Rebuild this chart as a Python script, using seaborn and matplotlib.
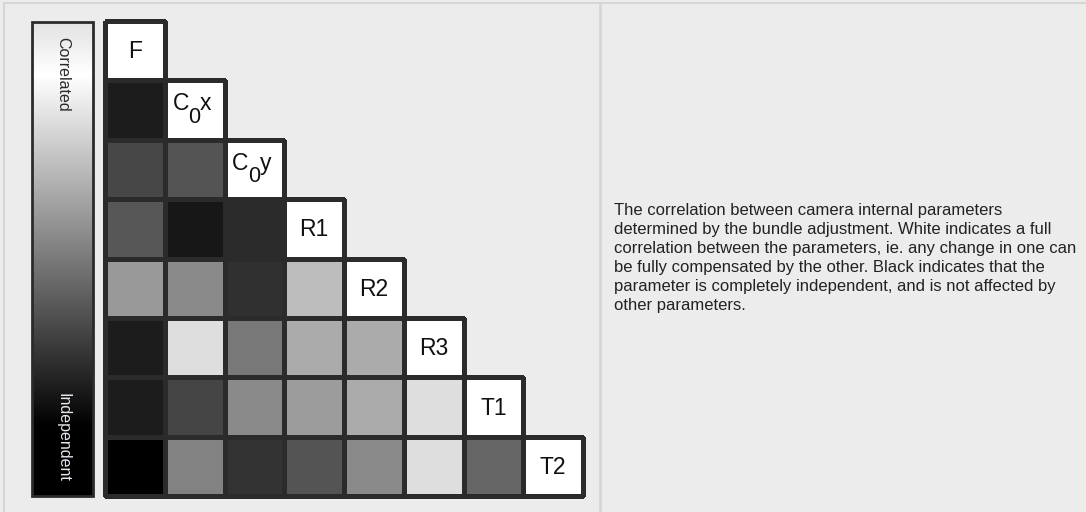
"""Camera internal parameter correlation matrix (lower triangle) with legend bar."""

import matplotlib
matplotlib.use("Agg")

import matplotlib.pyplot as plt
import numpy as np
import pandas as pd
import seaborn as sns
from matplotlib.colors import LinearSegmentedColormap, Normalize, to_rgba
from matplotlib.cm import ScalarMappable
from matplotlib.lines import Line2D

# --------------------------------------------------------------------------- #
# Data (|correlation|, 1 = fully correlated / white, 0 = independent / black)
# --------------------------------------------------------------------------- #
PARAMS = ["F", "C0x", "C0y", "R1", "R2", "R3", "T1", "T2"]
# (main, subscript, tail) pieces of each diagonal label
PARAM_LABELS = [("F", "", ""), ("C", "0", "x"), ("C", "0", "y"), ("R1", "", ""),
                ("R2", "", ""), ("R3", "", ""), ("T1", "", ""), ("T2", "", "")]

ROW_C0X = [0.11]
ROW_C0Y = [0.28, 0.33]
ROW_R1 = [0.34, 0.09, 0.17]
ROW_R2 = [0.60, 0.54, 0.19, 0.74]
ROW_R3 = [0.11, 0.87, 0.47, 0.67, 0.67]
ROW_T1 = [0.11, 0.27, 0.54, 0.61, 0.67, 0.87]
ROW_T2 = [0.00, 0.51, 0.20, 0.33, 0.54, 0.87, 0.40]

DESCRIPTION = ("The correlation between camera internal parameters\n"
               "determined by the bundle adjustment. White indicates a full\n"
               "correlation between the parameters, ie. any change in one can\n"
               "be fully compensated by the other. Black indicates that the\n"
               "parameter is completely independent, and is not affected by\n"
               "other parameters.")

# --------------------------------------------------------------------------- #
# Styling
# --------------------------------------------------------------------------- #
BG = "#ececec"
GRID = "#2b2b2b"
LABEL_SIZE = 16.5
W, H = 1086, 512

sns.set_style("white")
plt.rcParams["font.family"] = ["Liberation Sans", "DejaVu Sans"]

rows = [[], ROW_C0X, ROW_C0Y, ROW_R1, ROW_R2, ROW_R3, ROW_T1, ROW_T2]
n = len(PARAMS)
mat = np.full((n, n), np.nan)
for i, r in enumerate(rows):
    mat[i, :len(r)] = r
    mat[i, i] = 1.0
df = pd.DataFrame(mat, index=PARAMS, columns=PARAMS)
mask = np.triu(np.ones((n, n), dtype=bool), k=1)

fig = plt.figure(figsize=(W / 100, H / 100), dpi=100, facecolor=BG)


def px_axes(x0, y0, x1, y1):
    """Axes from pixel box (top-left origin)."""
    return fig.add_axes([x0 / W, 1 - y1 / H, (x1 - x0) / W, (y1 - y0) / H])


# panel frame lines
fig.add_artist(Line2D([4 / W, 4 / W], [0, 1 - 3 / H], color="#d6d6d6", lw=1.5))
fig.add_artist(Line2D([4 / W, 1], [1 - 3 / H, 1 - 3 / H], color="#d6d6d6", lw=1.5))
fig.add_artist(Line2D([600 / W, 600 / W], [0, 1 - 3 / H], color="#d6d6d6", lw=2))

# --------------------------------------------------------------------------- #
# Heatmap
# --------------------------------------------------------------------------- #
ax = px_axes(105, 21, 583, 496)
sns.heatmap(df, mask=mask, cmap="gray", vmin=0, vmax=1, cbar=False,
            linewidths=2.2, linecolor=GRID, xticklabels=False, yticklabels=False,
            ax=ax)
mesh = ax.collections[0]
mesh.set_clip_on(False)
# no grid lines around the masked (upper) cells
mesh.set_edgecolor([(0, 0, 0, 0) if m else to_rgba(GRID) for m in mask.ravel()])
ax.set_facecolor(BG)
ax.set_xlabel("")
ax.set_ylabel("")
for s in ax.spines.values():
    s.set_visible(False)

for i, (main, sub, tail) in enumerate(PARAM_LABELS):
    if not sub:
        ax.text(i + 0.5, i + 0.52, main, ha="center", va="center",
                fontsize=LABEL_SIZE, color="#111111")
        continue
    # C0x style: full-size lowered subscript
    t_main = ax.annotate(main, xy=(i + 0.5, i + 0.5), xytext=(-16, 4.5),
                         textcoords="offset points", ha="left", va="center",
                         fontsize=LABEL_SIZE, color="#111111")
    t_sub = ax.annotate(sub, xy=(1, 0.5), xycoords=t_main, xytext=(-0.5, -9.5),
                        textcoords="offset points", ha="left", va="center",
                        fontsize=LABEL_SIZE - 1, color="#111111")
    ax.annotate(tail, xy=(1, 0.5), xycoords=(t_sub, t_main), xytext=(0, 0),
                textcoords="offset points", ha="left", va="center",
                fontsize=LABEL_SIZE, color="#111111")

# --------------------------------------------------------------------------- #
# Legend bar
# --------------------------------------------------------------------------- #
bar_cmap = LinearSegmentedColormap.from_list(
    "corr", [(0.0, "#000000"), (0.145, "#000000"), (0.89, "#ffffff"), (1.0, "#e2e2e2")])
cax = px_axes(32, 22, 93, 496)
cb = fig.colorbar(ScalarMappable(norm=Normalize(0, 1), cmap=bar_cmap), cax=cax)
cb.set_ticks([])
cb.outline.set_linewidth(2)
cb.outline.set_edgecolor(GRID)
cax.text(0.5, 0.968, "Correlated", rotation=-90, ha="center", va="top",
         fontsize=11.5, color="#2a2a2a", transform=cax.transAxes)
cax.text(0.5, 0.03, "Independent", rotation=-90, ha="center", va="bottom",
         fontsize=11.5, color="#e8e8f0", transform=cax.transAxes)

# --------------------------------------------------------------------------- #
# Description
# --------------------------------------------------------------------------- #
fig.text(614 / W, 1 - 258 / H, DESCRIPTION, ha="left", va="center",
         fontsize=12, color="#222222", linespacing=1.32)

fig.savefig("out.png", dpi=100, facecolor=BG)
